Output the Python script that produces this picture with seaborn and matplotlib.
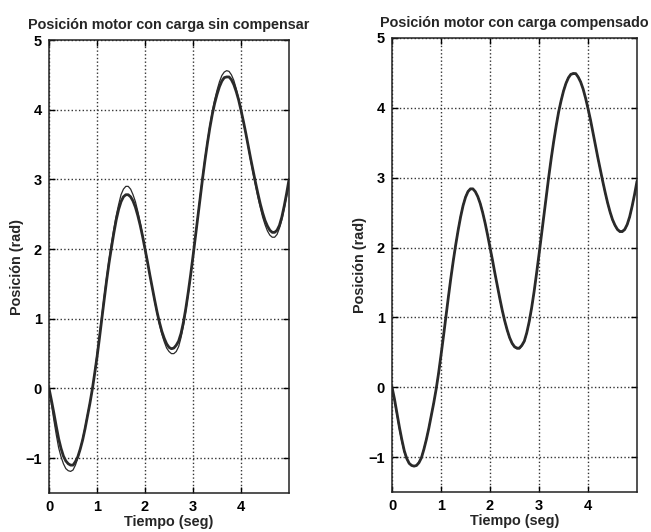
import numpy as np
import matplotlib.pyplot as plt
import seaborn as sns

# time axis (seg), samples every 0.05 s
tiempo = [round(0.05 * i, 2) for i in range(101)]

# left panel: load without compensation (thin = reference, thick = motor)
ref_sin = [0.00, -0.22, -0.45, -0.66, -0.85, -0.98, -1.08, -1.15, -1.18, -1.19,
           -1.17, -1.10, -1.00, -0.87, -0.72, -0.56, -0.38, -0.21, -0.03, 0.22,
           0.50, 0.77, 1.05, 1.33, 1.60, 1.85, 2.08, 2.29, 2.48, 2.64,
           2.78, 2.86, 2.90, 2.90, 2.86, 2.78, 2.68, 2.54, 2.38, 2.20,
           2.02, 1.83, 1.63, 1.44, 1.25, 1.08, 0.92, 0.78, 0.67, 0.58,
           0.53, 0.50, 0.50, 0.53, 0.60, 0.73, 0.90, 1.11, 1.35, 1.62,
           1.90, 2.19, 2.48, 2.77, 3.05, 3.31, 3.55, 3.77, 3.97, 4.14,
           4.28, 4.40, 4.49, 4.54, 4.56, 4.55, 4.50, 4.42, 4.30, 4.16,
           4.00, 3.83, 3.65, 3.46, 3.27, 3.09, 2.92, 2.75, 2.60, 2.46,
           2.35, 2.26, 2.20, 2.17, 2.17, 2.21, 2.30, 2.42, 2.58, 2.76,
           2.95]
pos_sin = [0.00, -0.17, -0.35, -0.54, -0.72, -0.86, -0.97, -1.04, -1.08, -1.10,
           -1.10, -1.05, -0.98, -0.87, -0.74, -0.58, -0.40, -0.22, -0.02, 0.21,
           0.45, 0.72, 1.00, 1.28, 1.55, 1.80, 2.02, 2.23, 2.42, 2.57,
           2.68, 2.75, 2.78, 2.78, 2.75, 2.69, 2.60, 2.48, 2.34, 2.18,
           2.00, 1.82, 1.63, 1.45, 1.27, 1.10, 0.95, 0.82, 0.72, 0.64,
           0.59, 0.57, 0.58, 0.62, 0.68, 0.79, 0.95, 1.15, 1.38, 1.63,
           1.90, 2.18, 2.46, 2.74, 3.02, 3.28, 3.52, 3.74, 3.93, 4.09,
           4.22, 4.33, 4.41, 4.46, 4.47, 4.47, 4.43, 4.36, 4.26, 4.14,
           3.99, 3.83, 3.66, 3.48, 3.30, 3.13, 2.96, 2.80, 2.65, 2.52,
           2.41, 2.33, 2.27, 2.24, 2.24, 2.27, 2.34, 2.46, 2.62, 2.80,
           3.00]

# right panel: load compensated
ref_comp = [0.00, -0.20, -0.40, -0.60, -0.78, -0.93, -1.03, -1.09, -1.12, -1.13,
            -1.12, -1.07, -1.00, -0.88, -0.74, -0.58, -0.40, -0.22, -0.03, 0.21,
            0.47, 0.74, 1.02, 1.30, 1.57, 1.82, 2.05, 2.26, 2.45, 2.61,
            2.73, 2.81, 2.84, 2.84, 2.80, 2.73, 2.64, 2.51, 2.36, 2.19,
            2.01, 1.82, 1.63, 1.44, 1.26, 1.09, 0.94, 0.81, 0.70, 0.62,
            0.57, 0.55, 0.55, 0.59, 0.65, 0.77, 0.93, 1.13, 1.37, 1.63,
            1.90, 2.18, 2.47, 2.75, 3.03, 3.29, 3.53, 3.75, 3.95, 4.11,
            4.25, 4.36, 4.44, 4.48, 4.50, 4.49, 4.45, 4.38, 4.27, 4.14,
            3.99, 3.83, 3.65, 3.47, 3.28, 3.11, 2.94, 2.78, 2.63, 2.50,
            2.39, 2.31, 2.25, 2.22, 2.22, 2.25, 2.32, 2.43, 2.58, 2.75,
            2.93]
pos_comp = [0.00, -0.17, -0.37, -0.57, -0.75, -0.91, -1.02, -1.09, -1.12, -1.13,
            -1.12, -1.08, -1.01, -0.89, -0.75, -0.59, -0.41, -0.23, -0.03, 0.20,
            0.46, 0.73, 1.01, 1.29, 1.56, 1.81, 2.04, 2.25, 2.44, 2.60,
            2.72, 2.80, 2.84, 2.84, 2.80, 2.73, 2.63, 2.50, 2.35, 2.18,
            2.00, 1.82, 1.63, 1.45, 1.27, 1.10, 0.95, 0.82, 0.71, 0.63,
            0.58, 0.56, 0.56, 0.60, 0.66, 0.78, 0.94, 1.14, 1.37, 1.63,
            1.90, 2.18, 2.46, 2.74, 3.02, 3.28, 3.52, 3.74, 3.94, 4.10,
            4.24, 4.35, 4.43, 4.48, 4.49, 4.49, 4.44, 4.37, 4.27, 4.14,
            3.99, 3.83, 3.65, 3.47, 3.29, 3.12, 2.95, 2.79, 2.64, 2.51,
            2.40, 2.32, 2.26, 2.23, 2.23, 2.26, 2.33, 2.44, 2.59, 2.76,
            2.95]

titulos = ["Posición motor con carga sin compensar",
           "Posición motor con carga compensado"]
xticks = [0, 1, 2, 3, 4]
yticks = [-1, 0, 1, 2, 3, 4, 5]

sns.set_style("ticks")
plt.rcParams['font.family'] = ['Liberation Sans', 'DejaVu Sans']

fig = plt.figure(figsize=(6.51, 5.32), dpi=100)
ax1 = fig.add_axes([0.0753, 0.0733, 0.3687, 0.8515])
ax2 = fig.add_axes([0.6022, 0.0752, 0.3763, 0.8534])

tinta = "#2a2a2a"
for ax, ref, pos, titulo in [(ax1, ref_sin, pos_sin, titulos[0]),
                             (ax2, ref_comp, pos_comp, titulos[1])]:
    sns.lineplot(x=tiempo, y=ref, ax=ax, color=tinta, lw=0.9)
    sns.lineplot(x=tiempo, y=pos, ax=ax, color=tinta, lw=2.0)
    ax.set_xlim(0, 5)
    ax.set_ylim(-1.5, 5)
    ax.set_xticks(xticks)
    ax.set_yticks(yticks)
    ax.grid(True, linestyle=":", color="#333333", lw=1.0)
    ax.tick_params(direction="in", length=4, width=1, top=True, right=True,
                   labelsize=10.5, colors="black", pad=5)
    for lab in ax.get_xticklabels() + ax.get_yticklabels():
        lab.set_fontweight("bold")
    for sp in ax.spines.values():
        sp.set_visible(True)
        sp.set_color("#222222")
        sp.set_linewidth(1.1)
    ax.set_title(titulo, fontsize=10.4, fontweight="bold", pad=8)
    ax.set_xlabel("Tiempo (seg)", fontsize=10.4, fontweight="bold", labelpad=1)
    ax.set_ylabel("Posición (rad)", fontsize=10.4, fontweight="bold", labelpad=1)

fig.savefig("out.png", dpi=100)
